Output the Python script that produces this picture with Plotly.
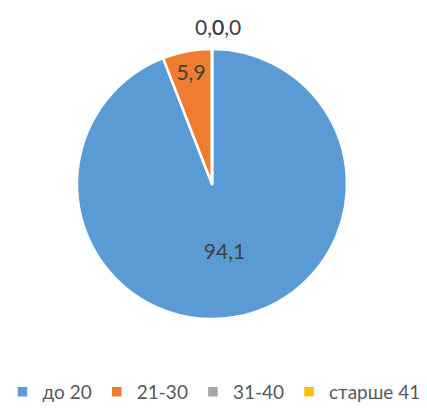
import plotly.graph_objects as go

categories = ["до 20", "21-30", "31-40", "старше 41"]
values = [94.1, 5.9, 0.0, 0.0]
colors = ["#5B9BD5", "#ED7D31", "#A5A5A5", "#FFC000"]

W, H = 427, 408
OFF = 8  # page body margin offset
cx, cy, R = 212 - OFF, 184 - OFF, 135
FS = 21

fig = go.Figure(go.Pie(
    labels=categories,
    values=values,
    sort=False,
    direction="clockwise",
    rotation=0,
    marker=dict(colors=colors, line=dict(color="white", width=2.5)),
    texttemplate="%{value:.1f}",
    textposition="inside",
    insidetextorientation="horizontal",
    textfont=dict(family="Lato", size=FS, color="#404040"),
    hoverinfo="label+value",
    domain=dict(x=[(cx - R) / W, (cx + R) / W], y=[(H - cy - R) / H, (H - cy + R) / H]),
))

# labels for zero-valued slices (not drawn by the pie itself), stacked at the top
zeros = [v for v in values if v == 0]
n = len(zeros)
for i, v in enumerate(zeros):
    fig.add_annotation(
        x=(217.5 - OFF + 17 * (i - (n - 1) / 2)) / W, y=(H - 27 + OFF) / H, xref="paper", yref="paper",
        text=f"{v:.1f}".replace(".", ","), showarrow=False,
        font=dict(family="Lato", size=FS, color="#404040"),
        xanchor="center", yanchor="middle",
    )

fig.update_layout(
    width=W, height=H,
    margin=dict(l=0, r=0, t=0, b=0, autoexpand=False),
    separators=", ",
    paper_bgcolor="white",
    showlegend=True,
    legend=dict(orientation="h", x=(214 - OFF) / W, xanchor="center", y=(H - 392 + OFF) / H, yanchor="middle",
                font=dict(family="Lato", size=19, color="#595959"), itemwidth=30,
                traceorder="normal"),
)
fig.write_html("out.html")
